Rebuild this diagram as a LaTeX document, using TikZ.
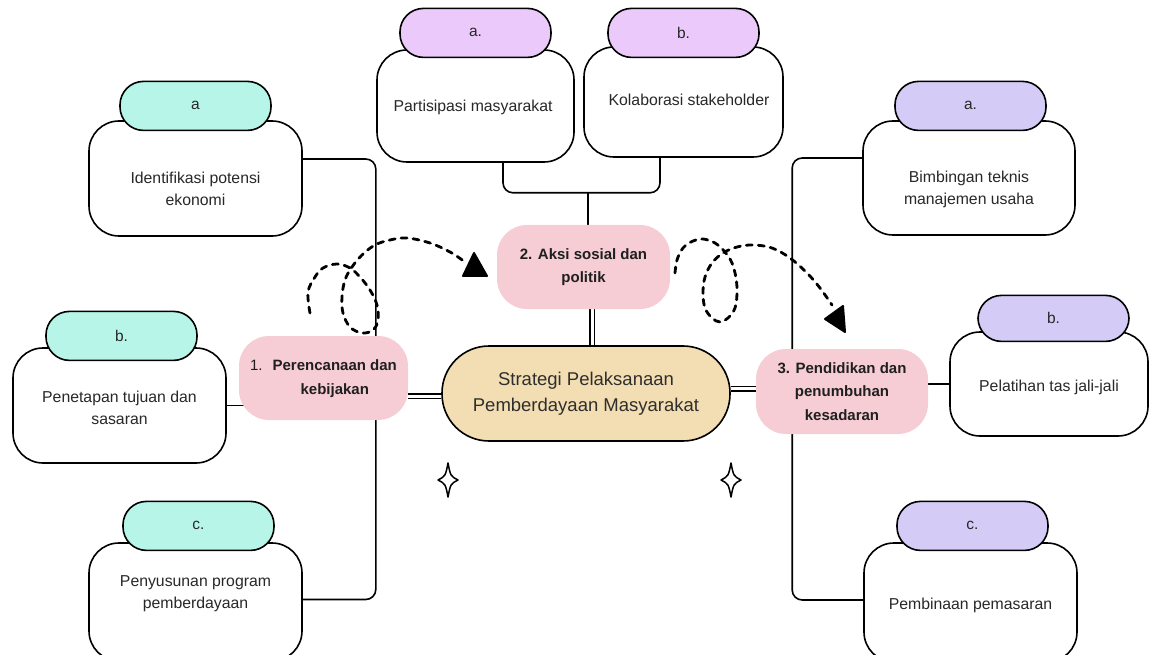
\documentclass[tikz,border=0pt]{standalone}
\usepackage{fontspec}
\setmainfont{Liberation Sans}
\usepackage{tikz}
\usetikzlibrary{positioning, calc, backgrounds}
\definecolor{mint}{RGB}{182,245,232}
\definecolor{lilac}{RGB}{235,201,251}
\definecolor{lavender}{RGB}{212,204,246}
\definecolor{blush}{RGB}{246,205,212}
\definecolor{sand}{RGB}{243,222,179}
\definecolor{inkgrey}{RGB}{40,40,40}

\begin{document}
\begin{tikzpicture}[x=1pt, y=-1pt,
  item/.style={draw, line width=1.6pt, fill=white, rounded corners=30pt, minimum width=213pt, minimum height=115pt, inner sep=0pt},
  tag/.style={draw, line width=1.6pt, rounded corners=23.5pt, minimum width=151pt, minimum height=49pt, inner sep=0pt, text=inkgrey, font=\fontsize{15.5}{18}\selectfont},
  itemtext/.style={align=center, text=inkgrey, font=\fontsize{15.8}{22}\selectfont},
  stage/.style={fill=blush, rounded corners=30pt, minimum width=172pt, minimum height=84pt, inner sep=0pt, align=center, text=black!88, font=\bfseries\fontsize{15}{23.5}\selectfont},
  core/.style={draw, line width=1.6pt, fill=sand, rounded corners=47pt, minimum width=288pt, minimum height=95pt, inner sep=0pt, align=center, text=black!82, font=\fontsize{18.5}{26}\selectfont},
  link/.style={line width=1.6pt, rounded corners=10pt},
  dbl/.style={double, double distance=3pt, line width=1.5pt},
  swirl/.style={line width=2.8pt, dash pattern=on 6pt off 6pt, line cap=round},
  sparkle/.style={line width=1.5pt, line join=round}]

\useasboundingbox (0,0) rectangle (1149,655);

\node[core] (centre) at (586,393.5) {Strategi Pelaksanaan\\Pemberdayaan Masyarakat};
\node[stage, minimum width=169pt] (plan) at (323.5,378) {{\mdseries 1.}\hspace{10pt}\begin{tabular}[t]{@{}c@{}}Perencanaan dan\\kebijakan\end{tabular}};
\node[stage, minimum width=173pt] (aksi) at (583.5,267) {2. Aksi sosial dan\\politik};
\node[stage, minimum height=85pt] (edu) at (842,391.5) {3. Pendidikan dan\\penumbuhan\\kesadaran};

% left items
\node[item] (ia) at (195.5,178.5) {};
\node[tag, fill=mint, above=-11pt of ia] (ia-tag) {a};
\node[itemtext] (ia-txt) at ([yshift=-10.5pt]ia.center) {Identifikasi potensi\\ekonomi};

\node[item] (ib) at (119.5,405.5) {};
\node[tag, fill=mint, above=-14pt of ib, xshift=2pt] (ib-tag) {b.};
\node[itemtext] (ib-txt) at ([yshift=-2.5pt]ib.center) {Penetapan tujuan dan\\sasaran};

\node[item, minimum height=118pt] (ic) at (195.5,602) {};
\node[tag, fill=mint, above=-9pt of ic, xshift=3pt] (ic-tag) {c.};
\node[itemtext] (ic-txt) at ([yshift=8pt]ic.center) {Penyusunan program\\pemberdayaan};

% top items
\node[item, minimum width=197pt, minimum height=112pt] (ta) at (475.5,106) {};
\node[tag, fill=lilac, above=-9pt of ta] (ta-tag) {a.};
\node[itemtext] (ta-txt) at ([xshift=-2.5pt, yshift=-1pt]ta.center) {Partisipasi masyarakat};

\node[item, minimum width=199pt, minimum height=110pt] (tb) at (683.5,102) {};
\node[tag, fill=lilac, above=-12pt of tb] (tb-tag) {b.};
\node[itemtext] (tb-txt) at ([xshift=5.5pt, yshift=2pt]tb.center) {Kolaborasi stakeholder};

% right items
\node[item, minimum width=212pt, minimum height=114pt] (ea) at (969,178) {};
\node[tag, fill=lavender, above=-11pt of ea, xshift=1.5pt] (ea-tag) {a.};
\node[itemtext] (ea-txt) at ([yshift=-11pt]ea.center) {Bimbingan teknis\\manajemen usaha};

\node[item, minimum width=198pt, minimum height=104pt] (eb) at (1049,384) {};
\node[tag, fill=lavender, minimum height=46pt, above=-11pt of eb, xshift=4.5pt] (eb-tag) {b.};
\node[itemtext] (eb-txt) at ([yshift=-3pt]eb.center) {Pelatihan tas jali-jali};

\node[item, minimum height=119pt] (ec) at (970.5,602.5) {};
\node[tag, fill=lavender, above=-9pt of ec, xshift=2pt] (ec-tag) {c.};
\node[itemtext] (ec-txt) at ([yshift=-2.5pt]ec.center) {Pembinaan pemasaran};

\begin{scope}[on background layer]
\draw[link] ([yshift=19.5pt]ia.east) -- ++(73,0) |- ([yshift=2.5pt]ic.east);
\draw[link] (ib.east) -- (ib.east -| plan.center);
\draw[link] ([yshift=20pt]ea.west) -- ++(-70,0) |- ([yshift=2.5pt]ec.west);
\draw[link] (eb.west) -- (eb.west -| edu.center);
\draw[link] ([xshift=27.5pt]ta.south) -- ++(0,30) -| ([xshift=-23.5pt]tb.south);
\draw[link] ([xshift=4.5pt]aksi.north) -- ++(0,-33);
\draw[dbl] ([xshift=8.5pt]aksi.south) -- ([xshift=8.5pt]aksi.south |- centre.north);
\draw[dbl] ([yshift=-2.5pt]centre.west) -- ([yshift=-2.5pt]centre.west -| plan.east);
\draw[dbl] ([yshift=5pt]centre.east) -- ([yshift=5pt]centre.east -| edu.center);
\end{scope}

\draw[swirl] plot[smooth, tension=0.6] coordinates {(310,313) (308,292) (315,277) (323,268) (337,264) (350,268) (360,277) (370,290) (377,305) (378,320) (373,330) (362,333) (350,327) (343,313) (342,297) (345,280) (352,267) (362,255) (375,245) (390,240) (407,238) (430,243) (450,252) (465,262)};
\fill[line width=2pt, line join=round, draw] (463,276) -- (487,276) -- (474,253) -- cycle;

\draw[swirl] plot[smooth, tension=0.6] coordinates {(675,273) (677,260) (683,248) (693,241) (703,239) (715,243) (725,252) (732,263) (736,278) (737,293) (735,308) (728,318) (720,322) (712,318) (705,308) (703,293) (705,277) (712,263) (723,253) (737,247) (753,245) (772,248) (790,258) (807,273) (820,288) (832,305)};
\fill[line width=2pt, line join=round, draw] (825,319) -- (843,306) -- (845,332) -- cycle;

\draw[sparkle] (448,463) .. controls (450.5,476) .. (458,480) .. controls (450.5,484) .. (448,497) .. controls (445.5,484) .. (438,480) .. controls (445.5,476) .. (448,463) -- cycle;
\draw[sparkle] (731,463) .. controls (733.5,476) .. (741,480) .. controls (733.5,484) .. (731,497) .. controls (728.5,484) .. (721,480) .. controls (728.5,476) .. (731,463) -- cycle;

\end{tikzpicture}
\end{document}
